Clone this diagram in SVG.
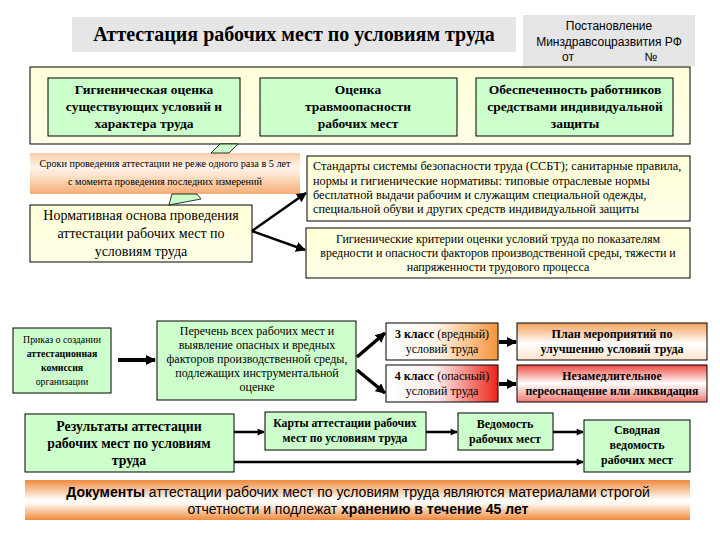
<svg xmlns="http://www.w3.org/2000/svg" width="720" height="540" viewBox="0 0 720 540">
<style>
.serif{font-family:'Liberation Serif','Times New Roman','DejaVu Serif',serif;fill:#000}
.sans{font-family:'Liberation Sans',Arial,sans-serif;fill:#000}
.b{font-weight:bold}
.green{fill:#ccffcc;stroke:#000;stroke-width:1}
.conn{stroke:#000;fill:none}
</style>
<defs>
<linearGradient id="gYel" x1="0" y1="0" x2="0" y2="1"><stop offset="0" stop-color="#ffffd8"/><stop offset="1" stop-color="#ffffe8"/></linearGradient>
<linearGradient id="gSroki" x1="0" y1="0" x2="0" y2="1"><stop offset="0" stop-color="#f9cfa8"/><stop offset="0.35" stop-color="#fff3ea"/><stop offset="0.55" stop-color="#fde3cc"/><stop offset="1" stop-color="#f6ac74"/></linearGradient>
<linearGradient id="gDocs" x1="0" y1="0" x2="0" y2="1"><stop offset="0" stop-color="#f08a3c"/><stop offset="0.5" stop-color="#ffffff"/><stop offset="0.6" stop-color="#fff6ee"/><stop offset="1" stop-color="#f08a3c"/></linearGradient>
<linearGradient id="g3" x1="0" y1="0" x2="1" y2="0"><stop offset="0" stop-color="#ffffff"/><stop offset="0.45" stop-color="#fff4ea"/><stop offset="1" stop-color="#f5953a"/></linearGradient>
<linearGradient id="g4" x1="0" y1="0" x2="1" y2="0"><stop offset="0" stop-color="#ffffff"/><stop offset="0.45" stop-color="#ffeeee"/><stop offset="1" stop-color="#ec2418"/></linearGradient>
<linearGradient id="gPlan" x1="0" y1="0" x2="0" y2="1"><stop offset="0" stop-color="#f5a05a"/><stop offset="0.55" stop-color="#ffffff"/><stop offset="1" stop-color="#fde3cc"/></linearGradient>
<linearGradient id="gNez" x1="0" y1="0" x2="0" y2="1"><stop offset="0" stop-color="#ee4a40"/><stop offset="0.5" stop-color="#ffffff"/><stop offset="1" stop-color="#f07a70"/></linearGradient>
<marker id="ah" viewBox="0 0 10 10" refX="9" refY="5" markerWidth="10" markerHeight="10" markerUnits="userSpaceOnUse" orient="auto"><path d="M0,0 L10,5 L0,10 z" fill="#000"/></marker>
<marker id="ahs" viewBox="0 0 10 10" refX="9" refY="5" markerWidth="8" markerHeight="7" markerUnits="userSpaceOnUse" orient="auto"><path d="M0,0 L10,5 L0,10 z" fill="#000"/></marker>
</defs>

<rect x="0" y="0" width="720" height="540" fill="#ffffff"/>

<g id="title">
<rect x="72" y="17" width="444" height="35" fill="#e6e6e6"/>
<text class="serif b" x="294" y="41" font-size="20" text-anchor="middle">Аттестация рабочих мест по условиям труда</text>
</g>

<g id="container">
<rect x="30" y="67" width="660" height="77" fill="url(#gYel)" stroke="#000" stroke-width="1"/>
</g>

<g id="postanovlenie">
<rect x="523" y="15" width="172" height="51" fill="#e6e6e6"/>
<text class="sans" font-size="12" text-anchor="middle"><tspan x="609" y="30">Постановление</tspan><tspan x="609" y="46">Минздравсоцразвития РФ</tspan><tspan x="568" y="61">от</tspan><tspan x="651" y="61">№</tspan></text>
</g>

<g id="gig-ocenka">
<rect class="green" x="48" y="78" width="192" height="58"/>
<text class="serif b" font-size="13.5" text-anchor="middle"><tspan x="144" y="94">Гигиеническая оценка</tspan><tspan x="144" y="111">существующих условий и</tspan><tspan x="144" y="128">характера труда</tspan></text>
</g>

<g id="travmo">
<rect class="green" x="260" y="78" width="197" height="58"/>
<text class="serif b" font-size="13.5" text-anchor="middle"><tspan x="358" y="94">Оценка</tspan><tspan x="358" y="111">травмоопасности</tspan><tspan x="358" y="128">рабочих мест</tspan></text>
</g>

<g id="siz">
<rect class="green" x="476" y="78" width="197" height="58"/>
<text class="serif b" font-size="13.5" text-anchor="middle"><tspan x="575" y="94">Обеспеченность работников</tspan><tspan x="575" y="111">средствами индивидуальной</tspan><tspan x="575" y="128">защиты</tspan></text>
</g>

<g id="sroki">
<rect x="30" y="153" width="270" height="41" fill="url(#gSroki)"/>
<text class="serif" font-size="10.2" text-anchor="middle"><tspan x="165" y="167">Сроки проведения аттестации не реже одного раза в 5 лет</tspan><tspan x="165" y="185">с момента проведения последних измерений</tspan></text>
</g>

<g id="normativ">
<rect x="30" y="205" width="222" height="57" fill="url(#gYel)" stroke="#000" stroke-width="1"/>
<text class="serif" font-size="14" text-anchor="middle"><tspan x="141" y="220">Нормативная основа проведения</tspan><tspan x="141" y="238">аттестации рабочих мест по</tspan><tspan x="141" y="256">условиям труда</tspan></text>
</g>

<g id="ssbt">
<rect x="307" y="156" width="383" height="65" fill="url(#gYel)" stroke="#000" stroke-width="1"/>
<text class="serif" font-size="12.3"><tspan x="313" y="170">Стандарты системы безопасности труда (ССБТ); санитарные правила,</tspan><tspan x="313" y="185">нормы и гигиенические нормативы: типовые отраслевые нормы</tspan><tspan x="313" y="199">бесплатной выдачи рабочим и служащим специальной одежды,</tspan><tspan x="313" y="213">специальной обуви и других средств индивидуальной защиты</tspan></text>
</g>

<g id="gig-kriterii">
<rect x="306" y="228" width="384" height="50" fill="url(#gYel)" stroke="#000" stroke-width="1"/>
<text class="serif" font-size="12" text-anchor="middle"><tspan x="498" y="243">Гигиенические критерии оценки условий труда по показателям</tspan><tspan x="498" y="257">вредности и опасности факторов производственной среды, тяжести и</tspan><tspan x="498" y="271">напряженности трудового процесса</tspan></text>
</g>

<g id="prikaz">
<rect class="green" x="13" y="328" width="98" height="65"/>
<text class="serif" font-size="9.8" text-anchor="middle"><tspan x="62" y="343">Приказ о создании</tspan><tspan x="62" y="357" font-weight="bold">аттестационная</tspan><tspan x="62" y="371" font-weight="bold">комиссия</tspan><tspan x="62" y="385">организации</tspan></text>
</g>

<g id="perechen">
<rect class="green" x="157" y="321" width="199" height="79"/>
<text class="serif" font-size="12" text-anchor="middle"><tspan x="257" y="335">Перечень всех рабочих мест и</tspan><tspan x="257" y="349">выявление опасных и вредных</tspan><tspan x="257" y="363">факторов производственной среды,</tspan><tspan x="257" y="377">подлежащих инструментальной</tspan><tspan x="257" y="391">оценке</tspan></text>
</g>

<g id="klass3">
<rect x="386" y="323" width="112" height="37" fill="url(#g3)" stroke="#000" stroke-width="1"/>
<text class="serif" font-size="12" text-anchor="middle"><tspan x="442" y="338"><tspan font-weight="bold">3 класс</tspan> (вредный)</tspan><tspan x="442" y="353">условий труда</tspan></text>
</g>

<g id="klass4">
<rect x="386" y="365" width="112" height="37" fill="url(#g4)" stroke="#000" stroke-width="1"/>
<text class="serif" font-size="12" text-anchor="middle"><tspan x="442" y="380"><tspan font-weight="bold">4 класс</tspan> (опасный)</tspan><tspan x="442" y="395">условий труда</tspan></text>
</g>

<g id="plan">
<rect x="517" y="323" width="190" height="37" fill="url(#gPlan)" stroke="#000" stroke-width="1"/>
<text class="serif b" font-size="12" text-anchor="middle"><tspan x="612" y="338">План мероприятий по</tspan><tspan x="612" y="353">улучшению условий труда</tspan></text>
</g>

<g id="nezamed">
<rect x="517" y="365" width="190" height="37" fill="url(#gNez)" stroke="#000" stroke-width="1"/>
<text class="serif b" font-size="11.8" text-anchor="middle"><tspan x="612" y="380">Незамедлительное</tspan><tspan x="612" y="395">переоснащение или ликвидация</tspan></text>
</g>

<g id="rezultaty">
<rect class="green" x="25" y="414" width="209" height="58"/>
<text class="serif b" font-size="13.8" text-anchor="middle"><tspan x="129" y="431">Результаты аттестации</tspan><tspan x="129" y="448">рабочих мест по условиям</tspan><tspan x="129" y="465">труда</tspan></text>
</g>

<g id="karty">
<rect class="green" x="265" y="412" width="161" height="38"/>
<text class="serif b" font-size="11.7" text-anchor="middle"><tspan x="345" y="427">Карты аттестации рабочих</tspan><tspan x="345" y="442">мест по условиям труда</tspan></text>
</g>

<g id="vedomost">
<rect class="green" x="458" y="413" width="95" height="37"/>
<text class="serif b" font-size="12" text-anchor="middle"><tspan x="505" y="428">Ведомость</tspan><tspan x="505" y="443">рабочих  мест</tspan></text>
</g>

<g id="svodnaya">
<rect class="green" x="584" y="420" width="106" height="52"/>
<text class="serif b" font-size="12" text-anchor="middle"><tspan x="637" y="434">Сводная</tspan><tspan x="637" y="449">ведомость</tspan><tspan x="637" y="464">рабочих  мест</tspan></text>
</g>

<g id="dokumenty">
<rect x="25" y="480" width="665" height="40" fill="url(#gDocs)"/>
<text class="sans" font-size="14" text-anchor="middle"><tspan x="358" y="497"><tspan font-weight="bold">Документы</tspan> аттестации рабочих мест по условиям труда являются материалами строгой</tspan><tspan x="358" y="514">отчетности и подлежат <tspan font-weight="bold">хранению в течение 45 лет</tspan></tspan></text>
</g>

<g id="connectors">
<polygon points="211,153 220,144 238,144 229,153" fill="#ccffcc" stroke="#000" stroke-width="0.8"/>
<polygon points="172,194 169,205 201,199 197,194" fill="#ccffcc" stroke="#000" stroke-width="0.8"/>
<line class="conn" x1="252" y1="231" x2="306" y2="193" stroke-width="2.5" marker-end="url(#ah)"/>
<line class="conn" x1="252" y1="231" x2="305" y2="250" stroke-width="2.5" marker-end="url(#ah)"/>
<line class="conn" x1="118" y1="360" x2="155" y2="360" stroke-width="4" marker-end="url(#ah)"/>
<line class="conn" x1="357" y1="357" x2="385" y2="333" stroke-width="3.5" marker-end="url(#ah)"/>
<line class="conn" x1="357" y1="370" x2="385" y2="393" stroke-width="3.5" marker-end="url(#ah)"/>
<line class="conn" x1="499" y1="342" x2="516" y2="342" stroke-width="4" marker-end="url(#ah)"/>
<line class="conn" x1="499" y1="384" x2="516" y2="384" stroke-width="4" marker-end="url(#ah)"/>
<line class="conn" x1="234" y1="432" x2="264" y2="432" stroke-width="2.5" marker-end="url(#ahs)"/>
<line class="conn" x1="426" y1="432" x2="457" y2="432" stroke-width="2.5" marker-end="url(#ahs)"/>
<line class="conn" x1="553" y1="432" x2="583" y2="432" stroke-width="2.5" marker-end="url(#ahs)"/>
<line class="conn" x1="234" y1="462" x2="583" y2="462" stroke-width="2.5" marker-end="url(#ahs)"/>
</g>
</svg>
